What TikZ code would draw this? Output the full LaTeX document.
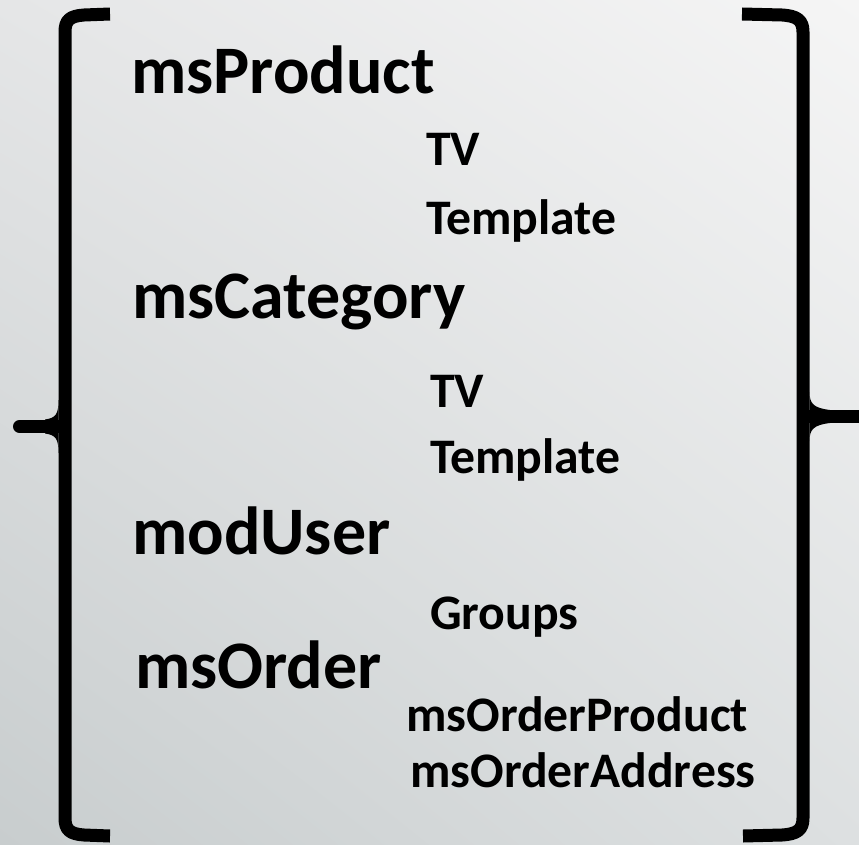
\documentclass[tikz,border=0pt]{standalone}
\usepackage{fontspec}
\usetikzlibrary{shadings}
\setmainfont{Carlito}
\definecolor{bgUL}{HTML}{E5E6E7}
\definecolor{bgUR}{HTML}{F5F5F5}
\definecolor{bgLL}{HTML}{C8CDCE}
\definecolor{bgLR}{HTML}{DDE0E1}
\tikzset{
  big/.style={anchor=base west, inner sep=0pt, font=\fontsize{68}{80}\selectfont\bfseries},
  small/.style={anchor=base west, inner sep=0pt, font=\fontsize{49.7}{58}\selectfont\bfseries},
  bracket/.style={draw=black, line width=13pt, line join=round}
}
\begin{document}
\begin{tikzpicture}[x=1pt, y=-1pt]
\useasboundingbox (0,0) rectangle (859,845);
\shade[upper left=bgUL, upper right=bgUR, lower left=bgLL, lower right=bgLR] (0,0) rectangle (859,845);

% left bracket
\draw[bracket] (110,14) -- (84,15) .. controls (70,16) and (65,20) .. (65,32) -- (65,818) .. controls (65,830) and (70,834) .. (84,835) -- (110,836);
\draw[bracket, line cap=round, line width=13pt] (19.5,426.5) -- (62,426.5);
\fill[black] (58.5,400) .. controls (58.5,414) and (56,418) .. (45,419.5) -- (45,433.5) .. controls (56,435) and (58.5,439) .. (58.5,453) -- cycle;

% right bracket
\draw[bracket] (742,14) -- (782,15) .. controls (797,16) and (803,20) .. (803,32) -- (803,818) .. controls (803,830) and (797,834) .. (782,835) -- (743,836);
\draw[bracket, line width=13pt] (806,416.5) -- (859,416.5);
\fill[black] (809.5,392) .. controls (809.5,404) and (814,408) .. (830,410) -- (830,423) .. controls (814,425) and (809.5,429) .. (809.5,441) -- cycle;

% texts
\node[big] (msProduct) at (131,94) {msProduct};
\node[small] (tv1) at (426,166) {TV};
\node[small] (tpl1) at (426,234) {Template};
\node[big] (msCategory) at (132,318) {msCategory};
\node[small] (tv2) at (430,407) {TV};
\node[small] (tpl2) at (430,473) {Template};
\node[big] (modUser) at (132,554) {modUser};
\node[small] (groups) at (430,629) {Groups};
\node[big] (msOrder) at (135,688) {msOrder};
\node[small] (msOrderProduct) at (406,731) {msOrderProduct};
\node[small] (msOrderAddress) at (410,787) {msOrderAddress};
\end{tikzpicture}
\end{document}
